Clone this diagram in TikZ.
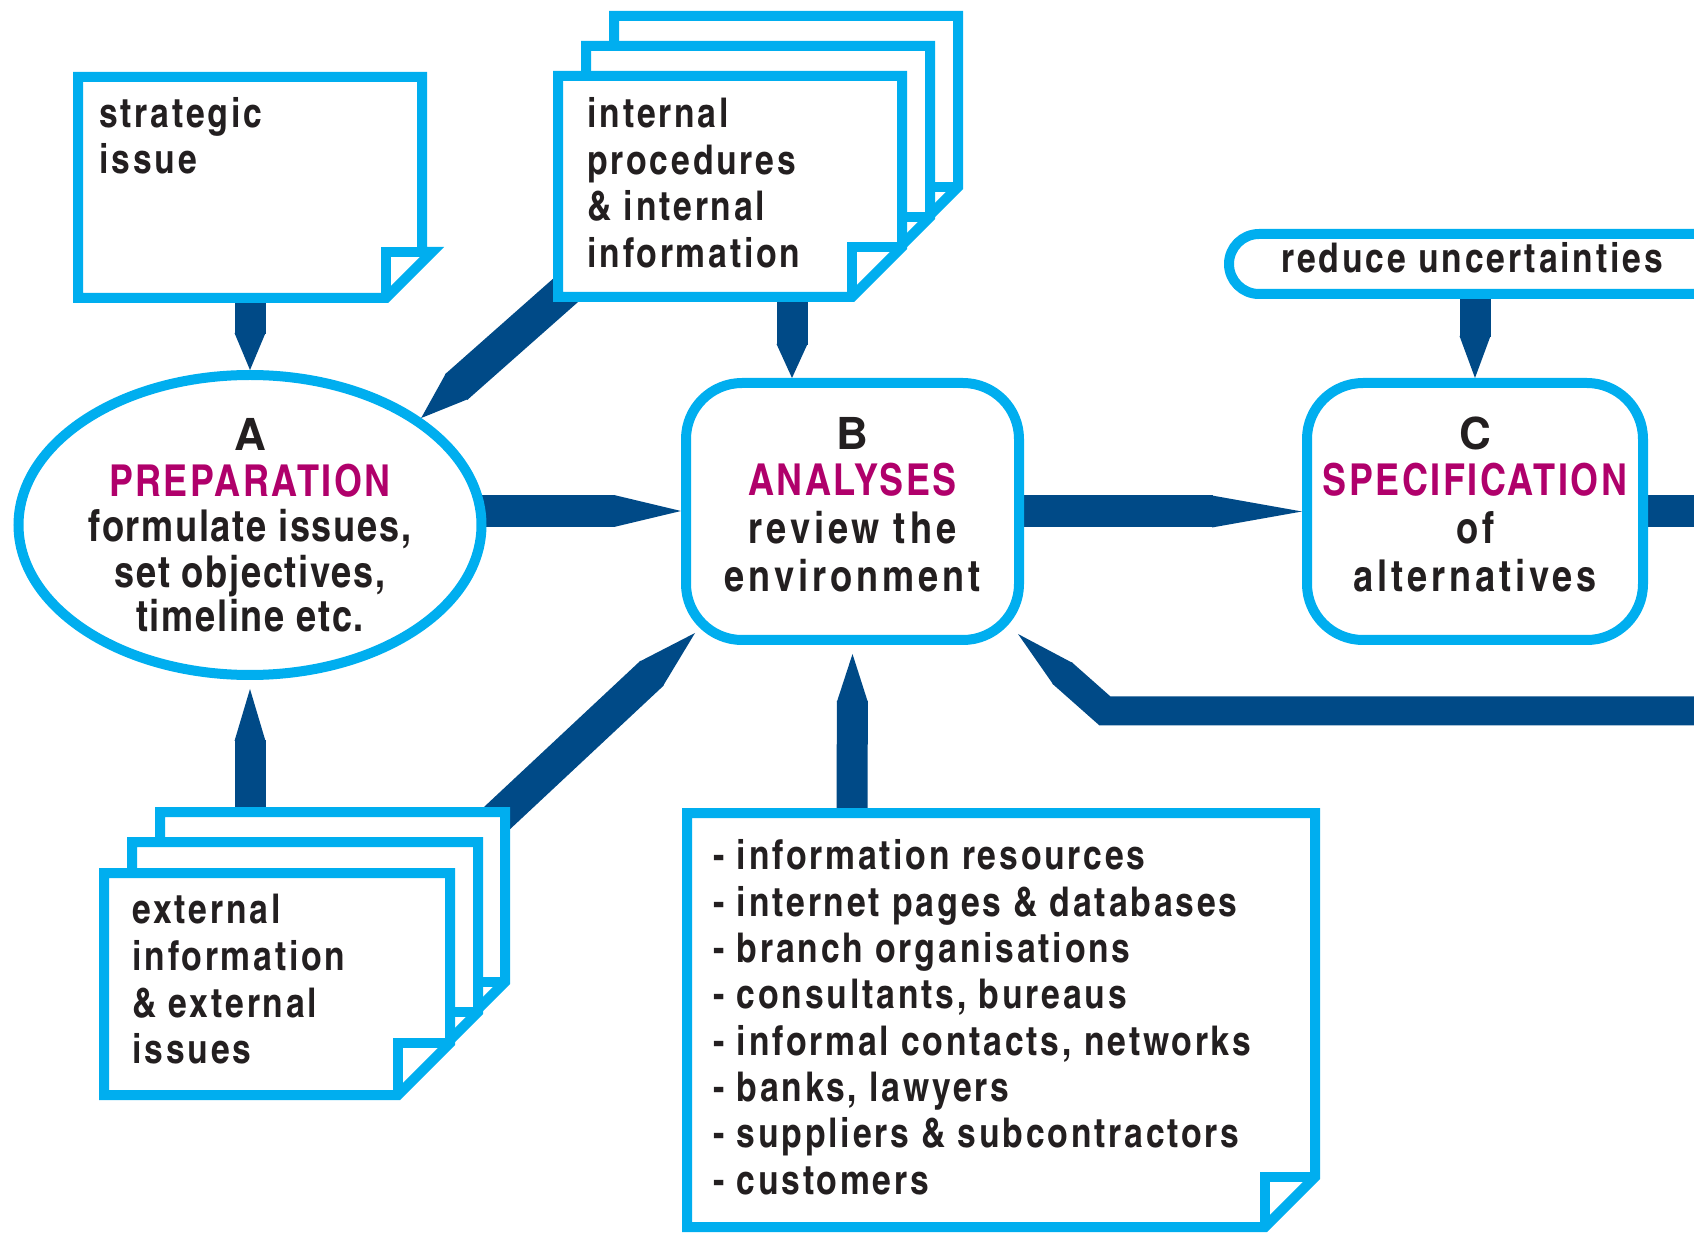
\documentclass[tikz,border=0pt]{standalone}
\usepackage{fontspec}
\setmainfont{texgyreheroscn-bold.otf}
\newfontfamily\boxfont{texgyreheroscn-bold.otf}[LetterSpace=7]
\newfontfamily\bodyA{texgyreheroscn-bold.otf}[LetterSpace=4]
\newfontfamily\bodyB{texgyreheroscn-bold.otf}[LetterSpace=9]
\newfontfamily\ttlfont{texgyreheroscn-bold.otf}[LetterSpace=5.5]
\newfontfamily\wideb{texgyreheros-bold.otf}
\usetikzlibrary{calc,shapes.geometric}
\definecolor{cyanline}{HTML}{00AEEF}
\definecolor{darkflow}{HTML}{004A87}
\definecolor{magtext}{HTML}{B0006B}
\definecolor{inktext}{HTML}{231F20}
\pgfdeclarelayer{bg}
\pgfsetlayers{bg,main}
\newcommand\notepage[5]{%
  \draw[notebox] (#1,#2) -- (#3,#2) -- (#3,#4-#5) -- (#3-#5,#4) -- (#1,#4) -- cycle;
  \draw[notefold] (#3-#5,#4) -- (#3-#5,#4-#5) -- (#3,#4-#5);
}
% #1 bar width, #2 head length, #3 start, #4 tip
\newcommand\flowarrow[4]{%
  \coordinate (fa-h) at ($(#4)!#2!(#3)$);
  \coordinate (fa-b) at ($(#4)!#2-0.6pt!(#3)$);
  \draw[bar=#1] (#3) -- (fa-b);
  \fill[darkflow] ($(fa-h)!#1/2!90:(#4)$) -- (#4) -- ($(fa-h)!#1/2!-90:(#4)$) -- cycle;
}
% #1 bar width, #2 head length, #3 start, #4 bend, #5 tip
\newcommand\flowarrowvia[5]{%
  \coordinate (fa-h) at ($(#5)!#2!(#4)$);
  \coordinate (fa-b) at ($(#5)!#2-0.6pt!(#4)$);
  \draw[bar=#1] (#3) -- (#4) -- (fa-b);
  \fill[darkflow] ($(fa-h)!#1/2!90:(#5)$) -- (#5) -- ($(fa-h)!#1/2!-90:(#5)$) -- cycle;
}
\begin{document}
\begin{tikzpicture}[x=0.5pt,y=-0.5pt,
  notebox/.style={draw=cyanline, line width=5pt, fill=white, line join=miter},
  notefold/.style={draw=cyanline, line width=5pt, line join=miter},
  shapebox/.style={draw=cyanline, line width=5pt, fill=white, inner sep=0pt},
  bar/.style={draw=darkflow, line width=#1, line join=miter},
  boxtxt/.style={inner sep=0pt, anchor=base west, text=inktext, font=\boxfont\fontsize{20.5}{24}\selectfont},
  atxt/.style={inner sep=0pt, anchor=base, text=inktext, font=\bodyA\fontsize{22}{26}\selectfont},
  btxt/.style={inner sep=0pt, anchor=base, text=inktext, font=\bodyB\fontsize{22}{26}\selectfont},
  ttl/.style={inner sep=0pt, anchor=base, text=inktext, font=\wideb\fontsize{22}{26}\selectfont},
  ttlm/.style={inner sep=0pt, anchor=base, text=magtext, font=\ttlfont\fontsize{22}{26}\selectfont},
]
\useasboundingbox (0,0) rectangle (1694,1235);
\clip (0,0) rectangle (1694,1235);

% main shapes
\node[shapebox, ellipse, minimum width=231.5pt, minimum height=150pt] (A) at (250,525) {};
\node[shapebox, rectangle, rounded corners=28pt, minimum width=166.5pt, minimum height=128.5pt] (B) at (852.5,511.5) {};
\node[shapebox, rectangle, rounded corners=28pt, minimum width=168pt, minimum height=128.5pt] (C) at (1475,511.5) {};
\node[shapebox, rectangle, rounded corners=15pt, minimum width=300pt, minimum height=30pt, anchor=west] (R) at (1224,264) {};

% strategic issue note
\draw[notebox] (78,77) -- (422,77) -- (422,252) -- (432,252) -- (386,298) -- (78,298) -- cycle;
\draw[notefold] (386,298) -- (386,252) -- (422,252);
% internal stack
\notepage{614}{16}{958}{237}{50}
\notepage{586}{46}{930}{267}{50}
\notepage{558}{76}{902}{297}{50}
% external stack
\notepage{160}{812}{505}{1034}{52}
\notepage{132}{842}{478}{1064}{52}
\notepage{104}{873}{450}{1095}{52}
% info note
\notepage{687}{813}{1315}{1227}{50}

% connector end points
\coordinate (strat) at (250,290);
\coordinate (intA) at (575,282);
\coordinate (intB) at (792,290);
\coordinate (abrow) at (400,511);
\coordinate (outR) at (1694,511.5);
\coordinate (extA) at (250,840);
\coordinate (extB) at (480,834);
\coordinate (infoB) at (852,830);
\coordinate (fbR) at (1694,711);
\coordinate (fbK) at (1105,711);
\coordinate (tipIB) at (intB |- B.north);
\coordinate (tipAB) at (abrow -| B.west);
\coordinate (redC) at (C.north |- R.center);
\coordinate (tipEA) at ($(A.south)+(0,9)$);
\coordinate (tipEB) at ($(B.south west)+(14,-12)$);
\coordinate (tipInB) at ($(B.south)+(0,9)$);
\coordinate (tipFB) at ($(B.south east)+(-6,-11)$);

% connectors (behind shapes)
\begin{pgfonlayer}{bg}
\flowarrow{15.5pt}{18.5pt}{strat}{A.north}
\flowarrow{17pt}{24pt}{intA}{A.32}
\flowarrow{15.5pt}{17pt}{intB}{tipIB}
\flowarrow{16pt}{33.5pt}{abrow}{tipAB}
\flowarrow{16pt}{45pt}{B.center}{C.west}
\draw[bar=16pt] (C.center) -- (outR);
\flowarrow{15.5pt}{21pt}{redC}{C.north}
\flowarrow{15.5pt}{26pt}{extA}{tipEA}
\flowarrow{17pt}{30pt}{extB}{tipEB}
\flowarrow{15.5pt}{24pt}{infoB}{tipInB}
\flowarrowvia{14.5pt}{30pt}{fbR}{fbK}{tipFB}
\end{pgfonlayer}

% texts
\node[boxtxt] (s1) at (99,128) {strategic};
\node[boxtxt] (s2) at (99,174) {issue};
\node[boxtxt] (i1) at (587,128) {internal};
\node[boxtxt] (i2) at (587,175) {procedures};
\node[boxtxt] (i3) at (587,221) {\& internal};
\node[boxtxt] (i4) at (587,268) {information};
\node[boxtxt] (e1) at (132,923) {external};
\node[boxtxt] (e2) at (132,970) {information};
\node[boxtxt] (e3) at (132,1017) {\& external};
\node[boxtxt] (e4) at (132,1063) {issues};
\node[boxtxt] (l1) at (713,869) {- information resources};
\node[boxtxt] (l2) at (713,916) {- internet pages \& databases};
\node[boxtxt] (l3) at (713,962) {- branch organisations};
\node[boxtxt] (l4) at (713,1008) {- consultants, bureaus};
\node[boxtxt] (l5) at (713,1055) {- informal contacts, networks};
\node[boxtxt] (l6) at (713,1101) {- banks, lawyers};
\node[boxtxt] (l7) at (713,1147) {- suppliers \& subcontractors};
\node[boxtxt] (l8) at (713,1194) {- customers};
\node[boxtxt] (r1) at (1281,273) {reduce uncertainties};

\node[ttl]  (a0) at (250,451) {A};
\node[ttlm] (a1) at (250,497) {PREPARATION};
\node[atxt] (a2) at (250,542) {formulate issues,};
\node[atxt] (a3) at (250,588) {set objectives,};
\node[atxt] (a4) at (250,632) {timeline etc.};

\node[ttl]  (b0) at (852.5,450) {B};
\node[ttlm] (b1) at (852.5,496) {ANALYSES};
\node[btxt] (b2) at (852.5,544) {review the};
\node[btxt] (b3) at (852.5,592) {environment};

\node[ttl]  (c0) at (1475,450) {C};
\node[ttlm] (c1) at (1475,496) {SPECIFICATION};
\node[btxt] (c2) at (1475,544) {of};
\node[btxt] (c3) at (1475,592) {alternatives};
\end{tikzpicture}
\end{document}
